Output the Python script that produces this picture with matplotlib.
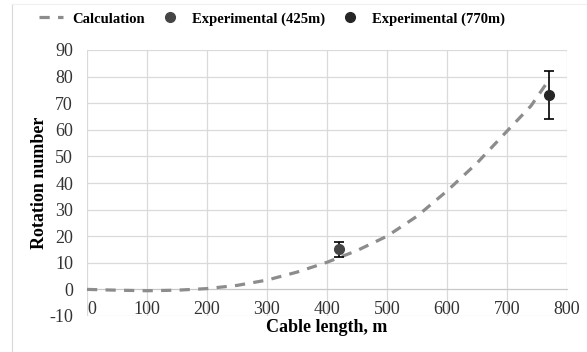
import matplotlib.pyplot as plt
from matplotlib.lines import Line2D

# data
calc_length = [0, 50, 100, 150, 200, 250, 300, 350, 400, 450, 500, 550, 600, 650, 700, 740, 766]
calc_rotation = [0, -0.3, -0.5, -0.3, 0.3, 1.5, 3.5, 6.5, 10.2, 14.6, 20, 27.5, 37, 47.5, 59.5, 69, 77.5]

exp1_length = [420]
exp1_rotation = [15]
exp1_err = [3]

exp2_length = [770]
exp2_rotation = [73]
exp2_err = [9]

x_ticks = [0, 100, 200, 300, 400, 500, 600, 700, 800]
y_ticks = [-10, 0, 10, 20, 30, 40, 50, 60, 70, 80, 90]

plt.rcParams['font.family'] = ['Liberation Serif', 'DejaVu Serif']
plt.rcParams['axes.unicode_minus'] = False

W, H = 587, 352
fig = plt.figure(figsize=(W / 100, H / 100), dpi=100)
ax = fig.add_axes([87 / W, 36 / H, (567 - 87) / W, (316 - 50) / H])

ax.plot(calc_length, calc_rotation, color='#8c8c8c', lw=2.3, ls=(0, (3.2, 2.6)),
        label='Calculation', zorder=3)
ax.errorbar(exp1_length, exp1_rotation, yerr=exp1_err, fmt='o', color='#454545',
            ecolor='black', elinewidth=1.2, capsize=3.5, capthick=1.2, ms=7,
            label='Experimental (425m)', zorder=4)
ax.errorbar(exp2_length, exp2_rotation, yerr=exp2_err, fmt='o', color='#262626',
            ecolor='black', elinewidth=1.2, capsize=3.5, capthick=1.2, ms=7,
            label='Experimental (770m)', zorder=4)

ax.set_xlim(0, 800)
ax.set_ylim(-10, 90)
ax.set_xticks(x_ticks)
ax.set_yticks(y_ticks)
ax.grid(True, color='#dadada', lw=0.9)
ax.set_axisbelow(True)
for s in ['top', 'right', 'left']:
    ax.spines[s].set_visible(False)
ax.spines['bottom'].set_position(('data', 0))
ax.spines['bottom'].set_color('#c8c8c8')
ax.tick_params(length=0, labelsize=13, colors='#333333')
ax.tick_params(axis='x', pad=8)
ax.tick_params(axis='y', pad=10)
for lbl in ax.get_xticklabels():
    lbl.set_horizontalalignment('left' if lbl.get_text() == '0' else 'center')

fig.text(327 / W, 1 - 328 / H, 'Cable length, m', ha='center', va='center',
         fontsize=13, fontweight='bold')
fig.text(40 / W, 1 - 183 / H, 'Rotation number', ha='center', va='center',
         fontsize=13, fontweight='bold', rotation=90)

handles = [
    Line2D([], [], color='#8c8c8c', lw=2.3, ls=(0, (3.2, 2.6))),
    Line2D([], [], color='#454545', marker='o', ls='none', ms=7),
    Line2D([], [], color='#262626', marker='o', ls='none', ms=7),
]
fig.legend(handles, ['Calculation', 'Experimental (425m)', 'Experimental (770m)'],
           loc='center', bbox_to_anchor=(272 / W, 1 - 19 / H), ncol=3, frameon=False,
           prop={'weight': 'bold', 'size': 10.5}, handlelength=1.6, columnspacing=0.9,
           handletextpad=0.7)

# chart area border
fig.add_artist(Line2D([12 / W, 12 / W], [0, 1 - 4 / H], color='#d9d9d9', lw=0.8))
fig.add_artist(Line2D([12 / W, 1], [1 - 4 / H, 1 - 4 / H], color='#efefef', lw=0.8))

fig.savefig('out.png', dpi=100)
